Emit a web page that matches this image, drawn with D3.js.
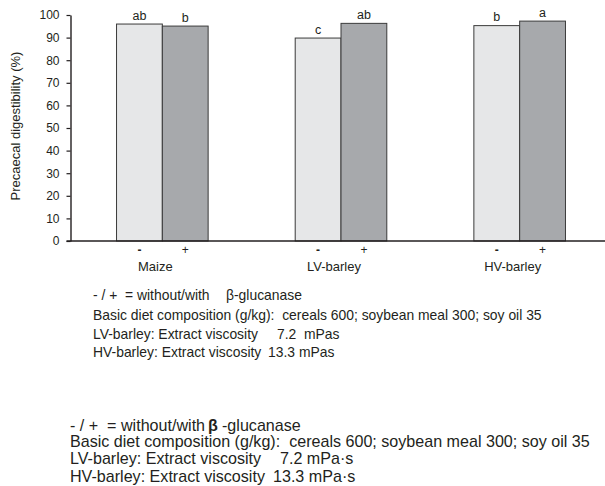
<!DOCTYPE html>
<html>
<head>
<meta charset="utf-8">
<script src="https://cdn.jsdelivr.net/npm/d3@7"></script>
<style>
  html, body { margin: 0; padding: 0; background: #fff; }
  svg { display: block; font-family: "Liberation Sans", Arial, Helvetica, sans-serif; }
  text { fill: #231f20; white-space: pre; }
</style>
</head>
<body>
<div id="chart"></div>
<script>
// ---- data ----
const categories = ["Maize", "LV-barley", "HV-barley"];
const treatments = ["-", "+"];
const withoutEnzyme = [96.0, 89.8, 95.3];
const withEnzyme = [95.1, 96.3, 97.3];
const lettersWithout = ["ab", "c", "b"];
const lettersWith = ["b", "ab", "a"];
const yTicks = [0, 10, 20, 30, 40, 50, 60, 70, 80, 90, 100];
const yTitle = "Precaecal digestibility (%)";
const note1 = [
  ["- / +  = without/with", "β-glucanase"],
  ["Basic diet composition (g/kg):  cereals 600; soybean meal 300; soy oil 35"],
  ["LV-barley: Extract viscosity", "7.2  mPas"],
  ["HV-barley: Extract viscosity", "13.3 mPas"]
];
const note2 = [
  ["- / +  = without/with", "β", "-glucanase"],
  ["Basic diet composition (g/kg):  cereals 600; soybean meal 300; soy oil 35"],
  ["LV-barley: Extract viscosity", "7.2 mPa·s"],
  ["HV-barley: Extract viscosity", "13.3 mPa·s"]
];

// ---- build table ----
const rows = categories.map((c, i) => ({
  cat: c,
  bars: [
    { t: treatments[0], v: withoutEnzyme[i], l: lettersWithout[i] },
    { t: treatments[1], v: withEnzyme[i], l: lettersWith[i] }
  ]
}));

const W = 605, H = 486;
const svg = d3.select("#chart").append("svg").attr("width", W).attr("height", H);

const axisX = 70.5;
const y = d3.scaleLinear().domain([0, 100]).range([241, 15]);
const x0 = d3.scaleBand().domain(categories).range([73, 609]);
const barW = 45.8;
const x1 = d3.scaleBand().domain(treatments).range([-barW, barW]);
const fills = { "-": "#e6e7e8", "+": "#a7a9ac" };

// bars
const g = svg.append("g");
const grp = g.selectAll("g.grp").data(rows).join("g")
  .attr("transform", d => `translate(${x0(d.cat) + x0.bandwidth() / 2},0)`);
grp.selectAll("rect").data(d => d.bars).join("rect")
  .attr("x", d => x1(d.t))
  .attr("y", d => y(d.v))
  .attr("width", x1.bandwidth())
  .attr("height", d => y(0) - y(d.v))
  .attr("fill", d => fills[d.t])
  .attr("stroke", "#3a3a3a")
  .attr("stroke-width", 1);
grp.selectAll("text.let").data(d => d.bars).join("text")
  .attr("class", "let")
  .attr("x", d => x1(d.t) + x1.bandwidth() / 2)
  .attr("y", d => y(d.v) - 4.5)
  .attr("text-anchor", "middle")
  .style("font-size", "12.5px")
  .text(d => d.l);
// treatment labels
grp.selectAll("text.trt").data(d => d.bars).join("text")
  .attr("class", "trt")
  .attr("x", d => x1(d.t) + x1.bandwidth() / 2)
  .attr("y", 254)
  .attr("text-anchor", "middle")
  .style("font-size", "12px")
  .style("font-weight", d => d.t === "-" ? "bold" : "normal")
  .text(d => d.t);
grp.append("text")
  .attr("x", -7)
  .attr("y", 270.5)
  .attr("text-anchor", "middle")
  .style("font-size", "13px")
  .text(d => d.cat);

// x axis baseline
svg.append("line")
  .attr("x1", axisX - 4).attr("x2", 605)
  .attr("y1", y(0)).attr("y2", y(0))
  .attr("stroke", "#231f20").attr("stroke-width", 1.4);

// y axis
const yAxis = d3.axisLeft(y).tickValues(yTicks).tickSize(4).tickPadding(7).tickSizeOuter(0);
const ya = svg.append("g").attr("transform", `translate(${axisX},0)`).call(yAxis);
ya.select(".domain").attr("stroke", "#231f20").attr("stroke-width", 1.4);
ya.selectAll(".tick line").attr("stroke", "#231f20").attr("stroke-width", 1.2);
ya.selectAll(".tick text")
  .style("font-size", "12px")
  .style("font-family", "'Liberation Sans', Arial, sans-serif")
  .attr("fill", "#231f20");

svg.append("text")
  .attr("transform", `translate(20,126) rotate(-90)`)
  .attr("text-anchor", "middle")
  .style("font-size", "13px")
  .text(yTitle);

// notes block 1
const n1x = [[93, 226], [93], [93, 277], [93, 268]];
const n1y = [300, 320, 338.5, 357];
note1.forEach((segs, i) => {
  segs.forEach((s, j) => {
    svg.append("text")
      .attr("x", n1x[i][j]).attr("y", n1y[i])
      .style("font-size", "13.9px")
      .text(s);
  });
});

// notes block 2
const n2x = [[70, 208, 222], [70], [70, 280], [70, 273]];
const n2y = [430.5, 447, 464, 481.5];
note2.forEach((segs, i) => {
  segs.forEach((s, j) => {
    svg.append("text")
      .attr("x", n2x[i][j]).attr("y", n2y[i])
      .style("font-size", "16.1px")
      .style("font-weight", s === "β" ? "bold" : "normal")
      .text(s);
  });
});
</script>
</body>
</html>
